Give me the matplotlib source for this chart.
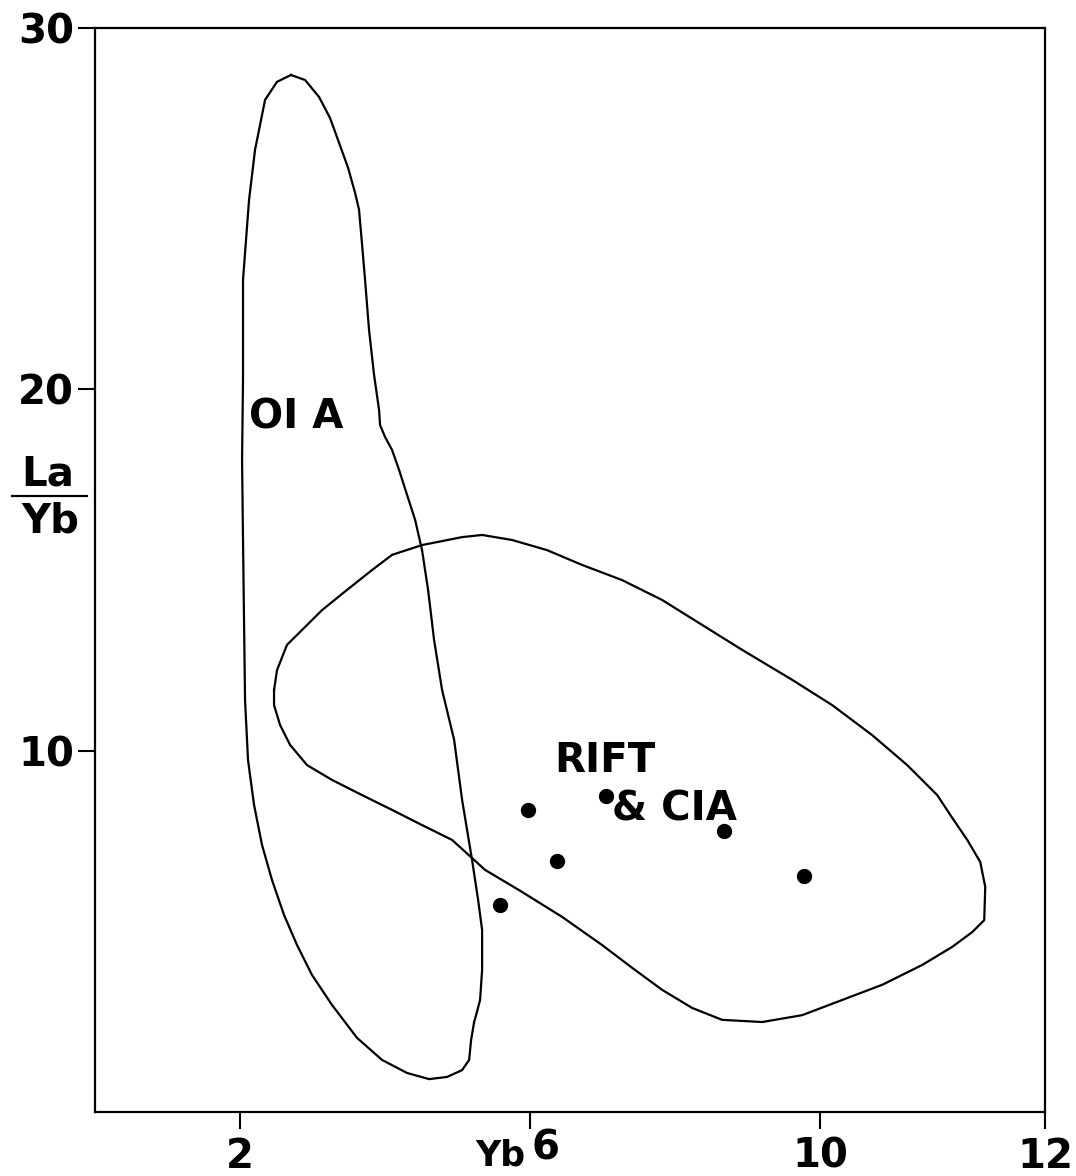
import numpy as np
import matplotlib
matplotlib.use("Agg")
import matplotlib.pyplot as plt
from matplotlib.lines import Line2D
from matplotlib.transforms import ScaledTranslation

plt.rcParams['font.family'] = ['DejaVu Sans']
plt.rcParams['font.weight'] = 'bold'

# === données (Yb, La/Yb) ===
oia_x = [2.703, 2.897, 3.090, 3.241, 3.366, 3.490, 3.586, 3.641, 3.683, 3.724,
         3.779, 3.848, 3.917, 3.931, 4.000, 4.097, 4.193, 4.303, 4.414, 4.510,
         4.593, 4.676, 4.786, 4.952, 5.062, 5.200, 5.283, 5.338, 5.338, 5.310,
         5.255, 5.228, 5.186, 5.159, 5.062, 4.855, 4.607, 4.303, 3.959, 3.614,
         3.269, 2.993, 2.786, 2.607, 2.441, 2.303, 2.193, 2.110, 2.069, 2.055,
         2.041, 2.028, 2.041, 2.041, 2.124, 2.207, 2.345, 2.510]
oia_y = [28.70, 28.56, 28.09, 27.51, 26.82, 26.13, 25.44, 24.97, 24.00, 23.03,
         21.64, 20.40, 19.43, 19.01, 18.68, 18.32, 17.77, 17.08, 16.39, 15.55,
         14.45, 13.06, 11.68, 10.30, 8.64, 6.97, 5.87, 5.04, 3.93, 3.10,
         2.68, 2.49, 1.99, 1.44, 1.16, 0.97, 0.91, 1.08, 1.44, 2.05,
         2.96, 3.79, 4.62, 5.45, 6.42, 7.39, 8.50, 9.74, 11.40, 13.62,
         15.83, 18.05, 20.26, 23.03, 25.24, 26.63, 28.01, 28.51]

rift_x = [2.469, 2.510, 2.648, 2.855, 3.131, 3.476, 3.821, 4.097, 4.510, 5.062,
          5.338, 5.752, 6.234, 6.717, 7.269, 7.821, 8.372, 8.924, 9.614, 10.166,
          10.717, 11.200, 11.614, 11.821, 12.028, 12.207, 12.276, 12.262, 12.097, 11.821,
          11.407, 10.855, 10.303, 9.752, 9.200, 8.648, 8.234, 7.821, 7.407, 6.993,
          6.441, 5.848, 5.379, 4.924, 4.510, 4.097, 3.683, 3.269, 2.924, 2.690,
          2.552, 2.469]
rift_y = [11.68, 12.23, 12.93, 13.34, 13.89, 14.45, 15.00, 15.42, 15.69, 15.91,
          15.97, 15.83, 15.55, 15.14, 14.72, 14.17, 13.48, 12.79, 11.96, 11.26,
          10.43, 9.60, 8.77, 8.14, 7.53, 6.92, 6.23, 5.31, 4.98, 4.57,
          4.07, 3.52, 3.10, 2.68, 2.49, 2.55, 2.88, 3.38, 3.99, 4.62,
          5.40, 6.14, 6.70, 7.53, 7.94, 8.36, 8.77, 9.19, 9.60, 10.16,
          10.71, 11.26]

pts_yb   = [5.97, 7.05, 8.68, 6.37, 5.59, 9.77]
pts_layb = [8.36, 8.75, 7.78, 6.95, 5.73, 6.53]

xticks      = [2, 6, 10, 13.1]
xticklabels = ['2', '6', '10', '12']
yticks      = [10, 20, 30]
yticklabels = ['10', '20', '30']

# === figure ===
fig = plt.figure(figsize=(10.76, 11.76), dpi=100)
ax = fig.add_axes([95/1076, 64/1176, 950/1076, 1084/1176])

ax.plot(oia_x + oia_x[:1], oia_y + oia_y[:1], color='black', lw=1.6,
        solid_joinstyle='round')
ax.plot(rift_x + rift_x[:1], rift_y + rift_y[:1], color='black', lw=1.6,
        solid_joinstyle='round')
ax.plot(pts_yb, pts_layb, 'o', color='black', ms=10)

ax.text(2.124, 19.21, 'OI A', fontsize=29, fontweight='bold', va='center', ha='left')
ax.text(6.33, 9.71, 'RIFT', fontsize=29, fontweight='bold', va='center', ha='left')
ax.text(7.13, 8.36, '& CIA', fontsize=29, fontweight='bold', va='center', ha='left')

ax.set_xlim(0, 13.1)
ax.set_ylim(0, 30)
ax.set_xticks(xticks)
ax.set_xticklabels(xticklabels)
ax.set_yticks(yticks)
ax.set_yticklabels(yticklabels)
ax.tick_params(axis='both', labelsize=29, length=12, width=1.5, direction='out')
ax.tick_params(axis='x', pad=6)
ax.tick_params(axis='y', pad=3)
for s in ax.spines.values():
    s.set_linewidth(1.6)

# le "6" est décalé vers la droite et un peu remonté
lbl6 = ax.get_xticklabels()[1]
lbl6.set_transform(lbl6.get_transform() + ScaledTranslation(0.15, 0.08, fig.dpi_scale_trans))

# étiquettes d'axes
fig.text(500/1076, 1 - 1156/1176, 'Yb', fontsize=25, fontweight='bold',
         ha='center', va='center')
fig.text(48/1076, 1 - 475/1176, 'La', fontsize=29, fontweight='bold',
         ha='center', va='center')
fig.text(50/1076, 1 - 521/1176, 'Yb', fontsize=29, fontweight='bold',
         ha='center', va='center')
fig.add_artist(Line2D([12/1076, 87/1076], [1 - 496/1176, 1 - 496/1176],
                      color='black', lw=1.6, transform=fig.transFigure))

fig.savefig('out.png', dpi=100)
